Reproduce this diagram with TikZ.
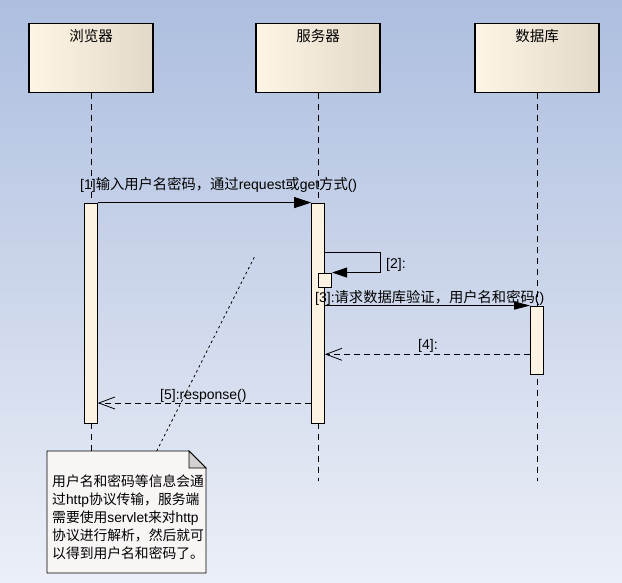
\documentclass[tikz,border=0pt]{standalone}
\usepackage{fontspec}
\setmainfont{Liberation Sans}
\newfontfamily\cjk{Noto Sans CJK SC}
\usetikzlibrary{arrows.meta}
\newcommand{\zhs}[1]{{\cjk\fontsize{14.3}{16}\selectfont #1}}
\definecolor{bgtop}{HTML}{ADBEDF}
\definecolor{bgbot}{HTML}{ECEFF7}
\definecolor{boxl}{HTML}{FEF5E6}
\definecolor{boxr}{HTML}{E3D9C8}
\definecolor{actfill}{HTML}{FDF3E3}
\definecolor{notefill}{HTML}{F8F5F5}
\definecolor{foldfill}{HTML}{D3D0D0}
\tikzset{
  actor/.style={draw=black, line width=1.1pt, left color=boxl, middle color=boxl, right color=boxr,
    minimum width=124pt, minimum height=69pt, inner sep=0pt},
  title/.style={font=\cjk\fontsize{14.5}{16}\selectfont, inner sep=0pt, anchor=base},
  lifeline/.style={draw=black, line width=0.9pt, dash pattern=on 6pt off 5pt},
  act/.style={draw=black, line width=0.9pt, fill=actfill, minimum width=12.7pt, inner sep=0pt},
  msg/.style={draw=black, line width=0.9pt, -{Triangle[length=17pt,width=11pt]}},
  ret/.style={draw=black, line width=0.9pt, dash pattern=on 6pt off 4pt,
    -{Straight Barb[length=16pt,width=12pt,line width=0.8pt]}},
  lbl/.style={font=\fontsize{14}{16}\selectfont, inner sep=0pt, anchor=base west},
  notebox/.style={draw=black, line width=0.9pt, fill=notefill},
  fold/.style={draw=black, line width=0.9pt, fill=foldfill},
  notetext/.style={font=\cjk\fontsize{13.8}{18.2}\selectfont, inner sep=0pt, anchor=base west},
  notelink/.style={draw=black, line width=0.8pt, dash pattern=on 2.5pt off 3pt}
}
\begin{document}
\begin{tikzpicture}[x=1pt,y=-1pt]
\useasboundingbox (0,0) rectangle (622,583);
\shade[top color=bgtop,bottom color=bgbot] (0,0) rectangle (622,583);

% actors
\node[actor] (b) at (91,57.8) {};
\node[actor] (s) at (318,57.8) {};
\node[actor] (d) at (537,57.8) {};
\path (b.north) ++(0,18.5) node[title] (bt) {浏览器};
\path (s.north) ++(0,18.5) node[title] (st) {服务器};
\path (d.north) ++(0,18.5) node[title] (dt) {数据库};

% lifeline ends
\coordinate (e1) at (91,451);
\coordinate (e2) at (318,481);
\coordinate (e3) at (537,481);
\draw[lifeline] (b.south) -- (e1);
\draw[lifeline] (s.south) -- (e2);
\draw[lifeline] (d.south) -- (e3);

% activations
\node[act, minimum height=220pt] (a1) at (91,313) {};
\node[act, minimum height=220pt] (a2) at (318,313) {};
\node[act, minimum height=68.3pt] (a3) at (537,340.15) {};
\node[act, minimum width=13.7pt, minimum height=14pt] (sb) at (324.8,280) {};

% y levels
\coordinate (y2) at (0,252.7);
\coordinate (y4) at (0,354.3);
\coordinate (y5) at (0,403);
\coordinate (lx) at (380.7,0);

% messages
\draw[msg] (a1.north east) -- (a2.north west);
\node[lbl] (l1) at (80,190) {[1]\zhs{输入用户名密码，通过}request\zhs{或}get\zhs{方式}()};

\draw[msg, -{Triangle[length=15pt,width=10pt]}] (a2.east |- y2) -| (lx |- sb.north east) -- (sb.north east);
\node[lbl] (l2) at (386,268.5) {[2]:};

\draw[msg, -{Triangle[length=16pt,width=8pt]}] (a2.east |- a3.north) -- (a3.north west);
\node[lbl] (l3) at (315,302) {[3]:\zhs{请求数据库验证，用户名和密码}()};

\draw[ret] (a3.west |- y4) -- (a2.east |- y4);
\node[lbl] (l4) at (418,349.5) {[4]:};

\draw[ret] (a2.west |- y5) -- (a1.east |- y5);
\node[lbl] (l5) at (160,399) {[5]:response()};

% note
\coordinate (nc) at (156.7,451);
\coordinate (ne) at (255,255.7);
\draw[notelink] (nc) -- (ne);
\coordinate (n1) at (47,451);
\coordinate (n2) at (189,451);
\coordinate (n3) at (206,468);
\coordinate (n4) at (206,573);
\coordinate (n5) at (47,573);
\draw[notebox] (n1) -- (n2) -- (n3) -- (n4) -- (n5) -- cycle;
\draw[fold] (n2) -- (n2 |- n3) -- (n3) -- cycle;
\node[notetext] (nt) at (52,486) {\begin{tabular}[t]{@{}l@{}}用户名和密码等信息会通\\
过{\rmfamily http}协议传输，服务端\\
需要使用{\rmfamily servlet}来对{\rmfamily http}\\
协议进行解析，然后就可\\
以得到用户名和密码了。\end{tabular}};
\end{tikzpicture}
\end{document}
